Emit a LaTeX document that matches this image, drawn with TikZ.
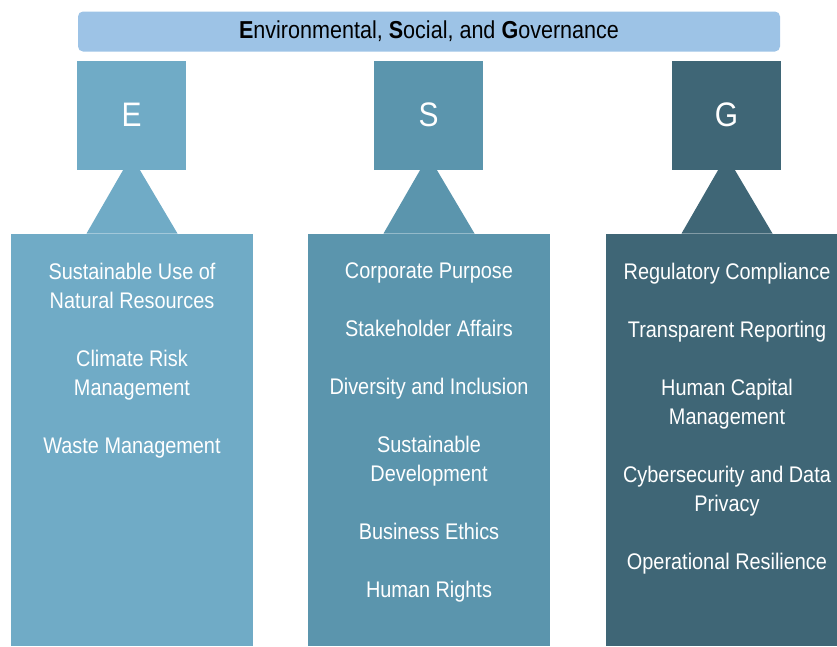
\documentclass[tikz,border=0pt]{standalone}
\usepackage{fontspec}
\setmainfont[FakeStretch=0.88]{Liberation Sans}
\usetikzlibrary{calc}
\definecolor{envblue}{HTML}{70ABC6}
\definecolor{socblue}{HTML}{5B95AD}
\definecolor{govblue}{HTML}{3F6676}
\definecolor{barblue}{HTML}{9DC3E6}
\tikzset{letter/.style={fill=#1, minimum size=109pt, inner sep=0pt, text=white, font=\fontsize{34}{34}\selectfont},
panel/.style={fill=#1, minimum width=242pt, minimum height=412pt, anchor=north, inner sep=0pt},
items/.style={text=white, align=center, anchor=north, inner sep=0pt, font=\fontsize{22.6}{29}\selectfont},
%the bar across the top
banner/.style={fill=barblue, rounded corners=5pt, minimum width=702pt, minimum height=40pt, inner sep=0pt, font=\fontsize{24.5}{26}\selectfont}}

\begin{document}
\begin{tikzpicture}[x=1pt,y=-1pt]
    \useasboundingbox (0,0) rectangle (837,646);
    \clip (0,0) rectangle (837,646);

    \node[banner] (title) at (429,31.5) {\textbf{E}nvironmental, \textbf{S}ocial, and \textbf{G}overnance};

    % letter square, panel below it and the wedge joining them
    \foreach \n/\x/\c in {E/131.5/envblue, S/428.5/socblue, G/726.5/govblue} {
      \node[letter=\c] (\n) at (\x,115) {\n};
      \node[panel=\c] (panel\n) at (\x+0.5,234) {};
      \fill[\c] ($(\n.south)+(-8.5,0.5)$) -- ($(\n.south)+(8.5,0.5)$) -- ($(panel\n.north)+(45.5,-0.5)$) -- ($(panel\n.north)+(-45.5,-0.5)$) -- cycle;
    }

    \node[items] (Elist) at ($(panelE.north)+(0,29)$) {Sustainable Use of\\Natural Resources\\[29pt]Climate Risk\\Management\\[29pt]Waste Management};
    \node[items] (Slist) at ($(panelS.north)+(0,29)$) {Corporate Purpose\\[29pt]Stakeholder Affairs\\[29pt]Diversity and Inclusion\\[29pt]Sustainable\\Development\\[29pt]Business Ethics\\[29pt]Human Rights};
    \node[items] (Glist) at ($(panelG.north)+(0,29)$) {Regulatory Compliance\\[29pt]Transparent Reporting\\[29pt]Human Capital\\Management\\[29pt]Cybersecurity and Data\\Privacy\\[29pt]Operational Resilience};

\end{tikzpicture}
\end{document}
